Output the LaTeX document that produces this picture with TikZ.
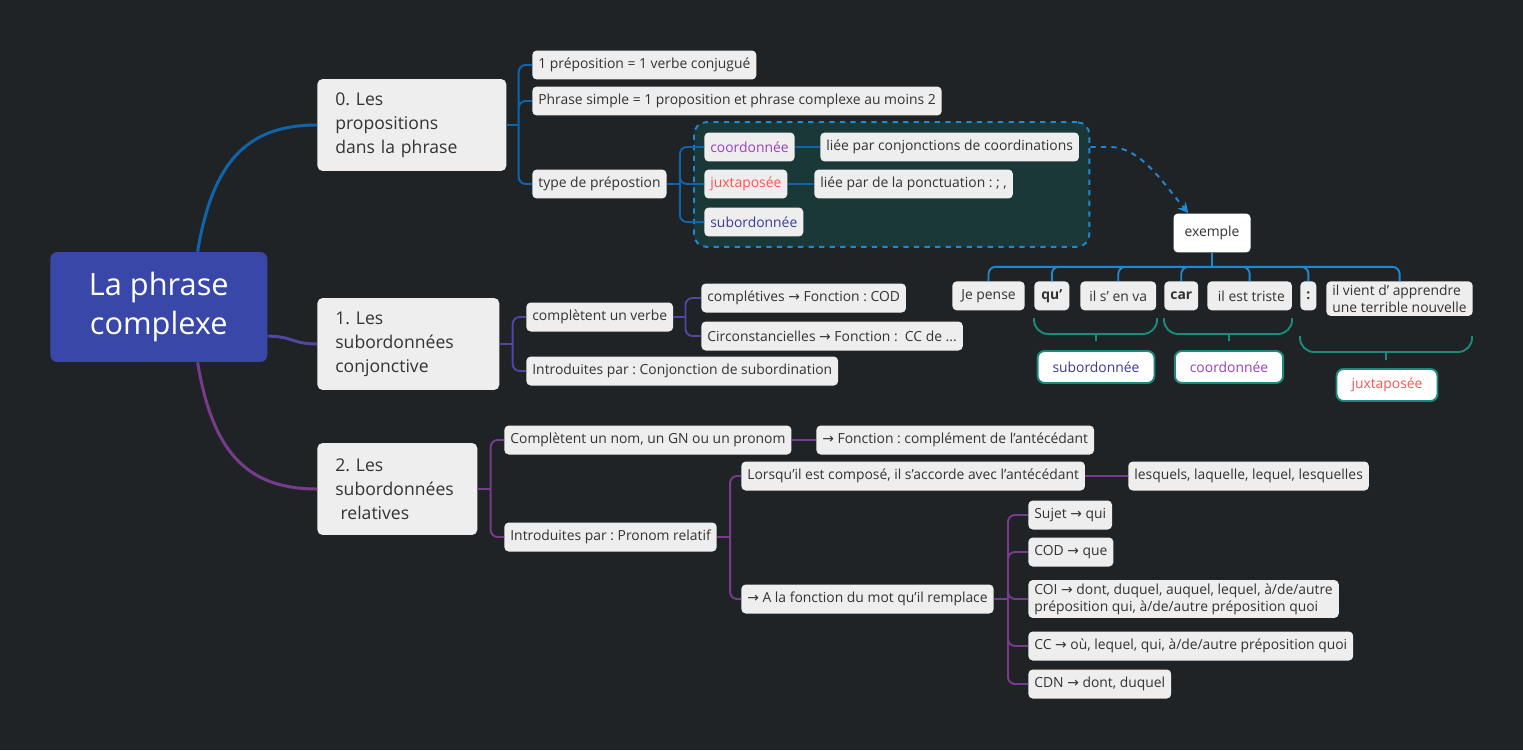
\documentclass[tikz,border=0pt]{standalone}
\usepackage{fontspec}
\setmainfont{Open Sans}
\newfontfamily\arrowfont{DejaVu Sans}
\usetikzlibrary{arrows.meta,fit,backgrounds}
\definecolor{bg}{HTML}{202326}
\definecolor{hubblue}{HTML}{3948A8}
\definecolor{pale}{HTML}{EEEEEE}
\definecolor{ink}{HTML}{333333}
\definecolor{lineA}{HTML}{1064AA}
\definecolor{lineB}{HTML}{5246A0}
\definecolor{lineC}{HTML}{783C8C}
\definecolor{sky}{HTML}{1E88D2}
\definecolor{deep}{HTML}{1B3839}
\definecolor{sumteal}{HTML}{1A8A7C}
\definecolor{coordc}{HTML}{9B3FC2}
\definecolor{juxtc}{HTML}{FF5252}
\definecolor{subc}{HTML}{3A3B9C}
\newcommand\ra{{\arrowfont →}}
\frenchspacing
\tikzset{
  leaf/.style={fill=pale, text=ink, rounded corners=2.5pt, inner xsep=0.12cm, inner ysep=2pt,
    minimum height=0.58cm, anchor=west, align=left, font=\fontsize{7.9}{9.6}\selectfont},
  word/.style={leaf, anchor=north west, inner xsep=0.18cm},
  topic/.style={fill=pale, text=ink, rounded corners=3pt, inner xsep=0.36cm, minimum height=1.84cm,
    anchor=west, align=left, font=\fontsize{10}{13.6}\selectfont},
  hub/.style={fill=hubblue, text=white, rounded corners=4pt, minimum width=4.34cm, minimum height=2.2cm,
    align=center, font=\fontsize{17.5}{22.5}\selectfont},
  tag/.style={fill=white, draw=sumteal, line width=1.1pt, rounded corners=4pt, inner xsep=0.3cm,
    minimum height=0.64cm, font=\fontsize{7.9}{9.6}\selectfont},
  fork/.style={rounded corners=4pt, line width=1.1pt},
  brace/.style={sumteal, line width=1.1pt, rounded corners=8pt},
  grp/.style={draw=sky, fill=deep, dashed, line width=1.1pt, rounded corners=7pt, inner sep=0.2cm}
}
\begin{document}
\begin{tikzpicture}[x=0.02cm, y=-0.02cm]
\begin{scope}[on background layer]
\fill[bg] (0,0) rectangle (1523,750);
\end{scope}
\useasboundingbox (0,0) rectangle (1523,750);
\path (50,307) node[hub, anchor=west] (root) {La phrase\\complexe}
		(317,125) node[topic, text width=3.06cm] (t0) {0. Les\\propositions\\dans la phrase}
		(317,344) node[topic, text width=2.92cm] (t1) {1. Les\\subordonnées\\conjonctive}
		(317,489) node[topic, text width=2.48cm] (t2) {2. Les\\subordonnées\\\hspace*{.3em}relatives}
		;
\path (532,65) node[leaf] (p1) {1 préposition = 1 verbe conjugué}
		(532,101) node[leaf] (p2) {Phrase simple = 1 proposition et phrase complexe au moins 2}
		(532,184) node[leaf] (p3) {type de prépostion}
		(704,147) node[leaf, text=coordc] (co) {coordonnée}
		(820,147) node[leaf] (co+) {liée par conjonctions de coordinations}
		(704,184) node[leaf, text=juxtc] (ju) {juxtaposée}
		(814,184) node[leaf] (ju+) {liée par de la ponctuation : ; ,}
		(704,222) node[leaf, text=subc] (su) {subordonnée}
		;
\begin{scope}[on background layer]
\node[grp, fit=(co)(co+)(su)] (grp) {};
\end{scope}
\path (1212,233) node[leaf, anchor=center, fill=white, minimum height=0.78cm, inner xsep=0.22cm] (ex) {exemple}
		(952,281) node[word] (w1) {Je pense}
		(1034,281) node[word, inner xsep=0.14cm, font=\fontsize{7.9}{9.6}\selectfont\bfseries] (w2) {qu'}
		(1080,281) node[word] (w3) {il s' en va}
		(1164,281) node[word, inner xsep=0.12cm, font=\fontsize{7.9}{9.6}\selectfont\bfseries] (w4) {car}
		(1207,281) node[word, inner xsep=0.14cm] (w5) {\ il est triste}
		(1300,281) node[word, inner xsep=0.12cm, font=\fontsize{7.9}{9.6}\selectfont\bfseries] (w6) {:}
		(1326,281) node[word, inner xsep=0.12cm] (w7) {il vient d' apprendre\\une terrible nouvelle}
		(1096,367) node[tag, text=subc] (s-sub) {subordonnée}
		(1229,367) node[tag, text=coordc] (s-coo) {coordonnée}
		(1387,385) node[tag, text=juxtc] (s-jux) {juxtaposée}
		;
\path (526,317) node[leaf] (v) {complètent un verbe}
		(701,298) node[leaf] (v1) {complétives \ra{} Fonction : COD}
		(701,336) node[leaf] (v2) {Circonstancielles \ra{} Fonction :\ \ CC de ...}
		(526,371) node[leaf] (c) {Introduites par : Conjonction de subordination}
		;
\path (504,440) node[leaf] (n) {Complètent un nom, un GN ou un pronom}
		(816,440) node[leaf] (n+) {\ra{} Fonction : complément de l'antécédant}
		(504,537) node[leaf] (r) {Introduites par : Pronom relatif}
		(741,476) node[leaf] (r1) {Lorsqu'il est composé, il s'accorde avec l'antécédant}
		(1128,476) node[leaf] (r1+) {lesquels, laquelle, lequel, lesquelles}
		(741,599) node[leaf] (r2) {\ra{} A la fonction du mot qu'il remplace}
		(1028,515) node[leaf] (q1) {Sujet \ra{} qui}
		(1028,552) node[leaf] (q2) {COD \ra{} que}
		(1028,599) node[leaf] (q3) {COI \ra{} dont, duquel, auquel, lequel, à/de/autre\\préposition qui, à/de/autre préposition quoi}
		(1028,646) node[leaf] (q4) {CC \ra{} où, lequel, qui, à/de/autre préposition quoi}
		(1028,684) node[leaf] (q5) {CDN \ra{} dont, duquel}
		;
\draw[lineA, line width=1.7pt] (root.55) .. controls +(15,-90) and +(-70,0) .. (t0.west);
\draw[lineB, line width=1.7pt] (root.-15) .. controls +(25,0) and +(-25,0) .. (t1.west);
\draw[lineC, line width=1.7pt] (root.-55) .. controls +(15,90) and +(-70,0) .. (t2.west);
\draw[fork, lineA] (t0.east) -- ++(12,0) coordinate (f0) (f0) |- (p1.west) (f0) |- (p2.west) (f0) |- (p3.west);
\draw[fork, lineA] (p3.east) -- ++(13,0) coordinate (f3) (f3) |- (co.west) (f3) |- (ju.west) (f3) |- (su.west);
\draw[fork, lineA] (co) -- (co+) (ju) -- (ju+);
\draw[sky, dashed, line width=1.1pt, -{Stealth[length=6pt, width=6pt]}] (grp.east |- co) -- ++(20,0) .. controls +(30,0) and +(-25,-30) .. (ex.140);
\draw[fork, sky] (ex.south) -- ++(0,14) coordinate (fx)
		(fx) -| (w1.north) (fx) -| (w2.north) (fx) -| (w3.north) (fx) -| (w4.north)
		(fx) -| (w5.north) (fx) -| (w6.north) (fx) -| (w7.north);
\draw[brace] (1034,318) -- (1034,334) -- (1157,334) -- (1157,318) (1096,334) -- (1096,341);
\draw[brace] (1164,318) -- (1164,334) -- (1292,334) -- (1292,318) (1229,334) -- (1229,341);
\draw[brace] (1300,336) -- (1300,352) -- (1472,352) -- (1472,336) (1386,352) -- (1386,360);
\draw[fork, lineB] (t1.east) -- ++(13,0) coordinate (f1) (f1) |- (v.west) (f1) |- (c.west);
\draw[fork, lineB] (v.east) -- ++(12,0) coordinate (fv) (fv) |- (v1.west) (fv) |- (v2.west);
\draw[fork, lineC] (t2.east) -- ++(13,0) coordinate (f2) (f2) |- (n.west) (f2) |- (r.west);
\draw[fork, lineC] (n) -- (n+) (r1) -- (r1+);
\draw[fork, lineC] (r.east) -- ++(13,0) coordinate (fr) (fr) |- (r1.west) (fr) |- (r2.west);
\draw[fork, lineC] (r2.east) -- ++(14,0) coordinate (fq) (fq) |- (q1.west) (fq) |- (q2.west) (fq) |- (q3.west)
		(fq) |- (q4.west) (fq) |- (q5.west);
\end{tikzpicture}
\end{document}
